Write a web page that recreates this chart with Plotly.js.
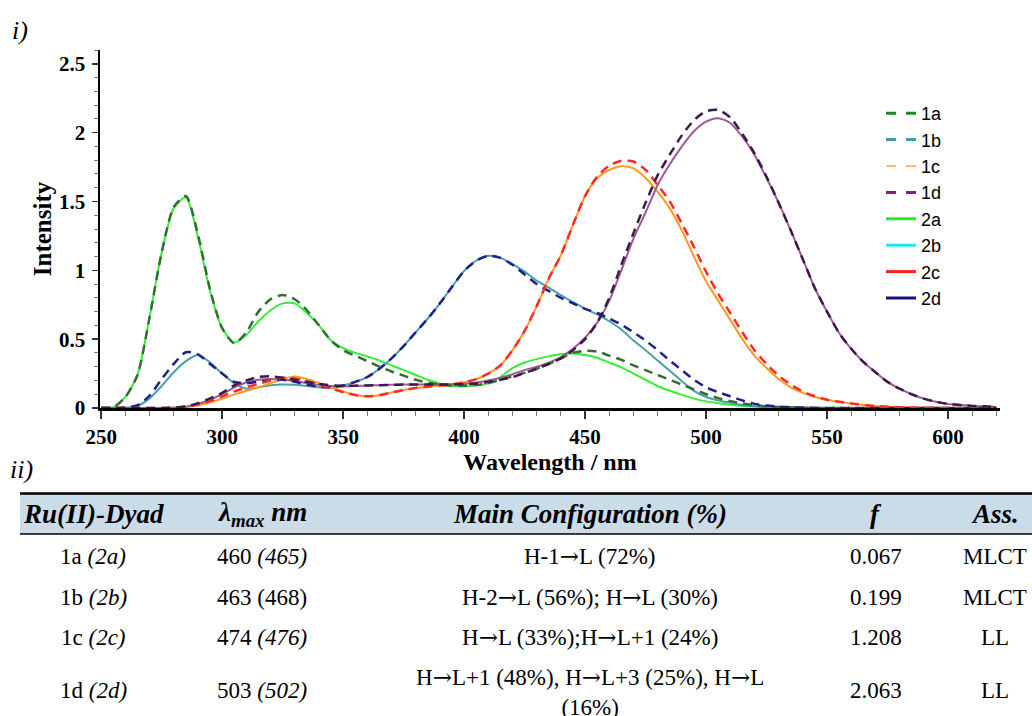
<!DOCTYPE html>
<html><head><meta charset="utf-8">
<script src="https://cdn.plot.ly/plotly-3.0.1.min.js"></script>
<style>html,body{margin:0;padding:0;background:#fff;}#chart{width:1032px;height:716px;}</style>
</head><body><div id="chart"></div>
<script>
// ---------- spectra data (wavelength in nm, intensity) ----------
const wavelength = [250,255,260,265,270,275,280,285,290,295,
  300,305,310,315,320,325,330,335,340,345,
  350,355,360,365,370,375,380,385,390,395,
  400,405,410,415,420,425,430,435,440,445,
  450,455,460,465,470,475,480,485,490,495,
  500,505,510,515,520,525,530,535,540,545,
  550,555,560,565,570,575,580,585,590,595,
  600,605,610,615,620];

const int2a = [0,0.005,0.08,0.24,0.66,1.13,1.45,1.53,1.24,0.85,
  0.58,0.475,0.53,0.63,0.71,0.76,0.76,0.69,0.60,0.49,
  0.435,0.40,0.375,0.345,0.31,0.275,0.24,0.205,0.177,0.162,
  0.157,0.163,0.18,0.225,0.29,0.33,0.355,0.375,0.39,0.395,
  0.385,0.365,0.33,0.295,0.25,0.205,0.16,0.125,0.095,0.068,
  0.048,0.035,0.024,0.015,0.01,0.006,0.004,0.002,0.001,0,
  0,0,0,0,0,0,0,0,0,0,
  0,0,0,0,0];
const int1a = [0,0.005,0.08,0.24,0.66,1.13,1.46,1.54,1.26,0.86,
  0.58,0.47,0.55,0.70,0.79,0.82,0.79,0.71,0.60,0.49,
  0.42,0.38,0.34,0.30,0.265,0.235,0.205,0.185,0.17,0.163,
  0.163,0.168,0.18,0.205,0.23,0.255,0.285,0.32,0.36,0.40,
  0.415,0.41,0.38,0.35,0.31,0.275,0.24,0.205,0.17,0.135,
  0.10,0.072,0.05,0.033,0.02,0.012,0.007,0.004,0.002,0.001,
  0,0,0,0,0,0,0,0,0,0,
  0,0,0,0,0];
const int2b = [0,0,0.002,0.015,0.07,0.16,0.26,0.34,0.385,0.33,
  0.25,0.18,0.14,0.15,0.165,0.17,0.168,0.16,0.15,0.148,
  0.163,0.19,0.225,0.285,0.36,0.45,0.55,0.65,0.76,0.88,
  0.995,1.07,1.105,1.09,1.045,0.99,0.925,0.875,0.82,0.77,
  0.72,0.68,0.63,0.57,0.49,0.42,0.345,0.27,0.195,0.125,
  0.08,0.055,0.038,0.022,0.013,0.008,0.004,0.002,0.001,0,
  0,0,0,0,0,0,0,0,0,0,
  0,0,0,0,0];
const int1b = [0,0,0.003,0.02,0.09,0.21,0.32,0.405,0.39,0.32,
  0.25,0.19,0.18,0.19,0.20,0.205,0.19,0.17,0.155,0.15,
  0.163,0.19,0.225,0.285,0.36,0.45,0.55,0.65,0.76,0.88,
  0.995,1.07,1.105,1.09,1.04,0.97,0.90,0.85,0.80,0.76,
  0.72,0.69,0.65,0.605,0.55,0.49,0.42,0.345,0.275,0.205,
  0.15,0.115,0.085,0.055,0.03,0.018,0.01,0.006,0.003,0.001,
  0,0,0,0,0,0,0,0,0,0,
  0,0,0,0,0];
const int2c = [0,0,0,0,0,0,0.002,0.008,0.02,0.04,
  0.068,0.097,0.125,0.15,0.18,0.21,0.228,0.21,0.18,0.15,
  0.12,0.095,0.085,0.093,0.113,0.13,0.145,0.155,0.163,0.172,
  0.187,0.21,0.25,0.31,0.42,0.56,0.74,0.94,1.11,1.33,
  1.54,1.67,1.73,1.755,1.74,1.67,1.57,1.45,1.29,1.10,
  0.92,0.78,0.64,0.50,0.38,0.29,0.21,0.15,0.11,0.08,
  0.06,0.045,0.032,0.022,0.014,0.009,0.005,0.003,0.002,0.001,
  0,0,0,0,0];
const int1c = [0,0,0,0,0,0,0.003,0.01,0.025,0.05,
  0.085,0.12,0.15,0.175,0.20,0.22,0.215,0.195,0.17,0.14,
  0.115,0.095,0.085,0.093,0.113,0.13,0.145,0.155,0.163,0.172,
  0.187,0.21,0.25,0.31,0.42,0.56,0.74,0.94,1.11,1.33,
  1.54,1.68,1.76,1.795,1.79,1.73,1.62,1.50,1.34,1.17,
  0.99,0.83,0.69,0.55,0.42,0.32,0.235,0.17,0.12,0.085,
  0.06,0.045,0.033,0.022,0.014,0.009,0.005,0.003,0.002,0.001,
  0,0,0,0,0];
const int2d = [0,0,0,0,0,0,0.002,0.01,0.03,0.06,
  0.10,0.15,0.185,0.205,0.21,0.205,0.195,0.18,0.168,0.16,
  0.157,0.16,0.163,0.166,0.168,0.17,0.17,0.17,0.171,0.173,
  0.177,0.185,0.20,0.22,0.245,0.275,0.30,0.33,0.37,0.43,
  0.51,0.62,0.78,1.00,1.23,1.42,1.62,1.77,1.90,2.01,
  2.08,2.105,2.07,1.97,1.84,1.67,1.49,1.29,1.08,0.87,
  0.70,0.545,0.43,0.335,0.26,0.19,0.14,0.10,0.068,0.045,
  0.03,0.022,0.015,0.012,0.008];
const int1d = [0,0,0,0,0,0,0.003,0.012,0.035,0.07,
  0.11,0.165,0.20,0.225,0.23,0.22,0.205,0.19,0.175,0.165,
  0.16,0.162,0.164,0.166,0.168,0.17,0.17,0.17,0.17,0.171,
  0.173,0.178,0.19,0.205,0.225,0.255,0.285,0.32,0.36,0.42,
  0.50,0.62,0.80,1.04,1.27,1.49,1.69,1.84,1.98,2.09,
  2.155,2.165,2.11,1.99,1.85,1.68,1.49,1.29,1.08,0.87,
  0.70,0.545,0.43,0.335,0.26,0.19,0.14,0.10,0.068,0.045,
  0.03,0.022,0.015,0.012,0.008];

// legend labels
const legendNames = ['1a','1b','1c','1d','2a','2b','2c','2d'];
const xTickVals = [250,300,350,400,450,500,550,600];

// ---------- table data ----------
const headerCells = ['<b><i>Ru(II)-Dyad</i></b>', '<b><i>λ<sub>max</sub> nm</i></b>',
  '<b><i>Main Configuration (%)</i></b>', '<b><i>f</i></b>', '<b><i>Ass.</i></b>'];
const dyad = ['1a','1b','1c','1d'];
const dyadRef = ['2a','2b','2c','2d'];
const lambda1 = ['460','463','474','503'];
const lambda2 = ['465','468','476','502'];
const lambda2Italic = [true,false,true,true];
const configuration = ['H-1→L (72%)', 'H-2→L (56%); H→L (30%)', 'H→L (33%);H→L+1 (24%)',
  'H→L+1 (48%), H→L+3 (25%), H→L<br>(16%)'];
const oscStrength = ['0.067','0.199','1.208','2.063'];
const assignment = ['MLCT','MLCT','LL','LL'];

[int2a,int1a,int2b,int1b,int2c,int1c,int2d,int1d].forEach((a,i)=>{
  if (a.length !== wavelength.length) throw new Error('length mismatch series '+i+': '+a.length);
});

// ---------- layout helpers ----------
const W = 1032, H = 716;
const px = v => v / W;
const py = v => 1 - v / H;
const SERIF = "'Liberation Serif', 'Times New Roman', Times, serif";
const SANS = "'Liberation Sans', Arial, sans-serif";
const arrow = s => s.split('→').join('<span style="font-family:\'DejaVu Serif\'">→</span>');

const DASH = '9px,6px';
function curve(y, color, dash, width) {
  return {x: wavelength, y: y, type: 'scatter', mode: 'lines', showlegend: false, hoverinfo: 'skip',
    line: {color: color, width: width, dash: dash, shape: 'spline', smoothing: 0.7}};
}
const traces = [
  curve(int2a, '#33ee33', 'solid', 2),
  curve(int2b, '#4aa0a6', 'solid', 2),
  curve(int2c, '#ff9a20', 'solid', 2),
  curve(int2d, '#9c5a92', 'solid', 2),
  curve(int1a, '#356e35', DASH, 2.5),
  curve(int1b, '#20208a', DASH, 2.5),
  curve(int1c, '#ff2a2a', DASH, 2.5),
  curve(int1d, '#3c1a4a', DASH, 2.5)
];
const legendStyles = [
  {color:'#1e8a1e', dash:'10px,10px', width:3},
  {color:'#3f9ea3', dash:'10px,10px', width:3},
  {color:'#ffa53a', dash:'10px,10px', width:1.5},
  {color:'#8a1a8a', dash:'10px,10px', width:3},
  {color:'#22ee22', dash:'solid', width:3},
  {color:'#22e5f5', dash:'solid', width:3},
  {color:'#ff2222', dash:'solid', width:3},
  {color:'#14147f', dash:'solid', width:3}
];
legendNames.forEach((n,i)=>{
  traces.push({x:[null], y:[null], type:'scatter', mode:'lines', name:n, showlegend:true,
    hoverinfo:'skip', line: legendStyles[i]});
});

// ---------- annotations (labels + table text) ----------
const ann = [];
function txt(x, y, text, size, opts) {
  ann.push(Object.assign({xref:'paper', yref:'paper', x:px(x), y:py(y), text:text, showarrow:false,
    xanchor:'center', yanchor:'middle', font:{family:SERIF, size:size, color:'#000'}}, opts||{}));
}
txt(10, 30, '<i>i)</i>', 26, {xanchor:'left'});
txt(8, 470, '<i>ii)</i>', 26, {xanchor:'left'});

const colX = [93, 262, 590, 876, 995];
headerCells.forEach((h,i)=> txt(colX[i], 514, h, 27));
const rowY = [556, 597, 637, 690];
dyad.forEach((d,i)=>{
  txt(colX[0], rowY[i], d + ' <i>(' + dyadRef[i] + ')</i>', 23);
  const l2 = lambda2Italic[i] ? '<i>(' + lambda2[i] + ')</i>' : '(' + lambda2[i] + ')';
  txt(colX[1], rowY[i], lambda1[i] + ' ' + l2, 23);
  txt(colX[2], i === 3 ? 692 : rowY[i], arrow(configuration[i]), 23);
  txt(colX[3], rowY[i], oscStrength[i], 23);
  txt(colX[4], rowY[i], assignment[i], 23);
});

const shapes = [
  {type:'rect', xref:'paper', yref:'paper', x0:px(20), x1:1, y0:py(534), y1:py(493),
   fillcolor:'#cbdce9', line:{width:0}, layer:'below'},
  {type:'line', xref:'paper', yref:'paper', x0:px(20), x1:1, y0:py(493.5), y1:py(493.5),
   line:{color:'#000', width:2.5}},
  {type:'line', xref:'paper', yref:'paper', x0:px(20), x1:1, y0:py(534), y1:py(534),
   line:{color:'#000', width:1.5}}
];

const layout = {
  width: W, height: H,
  margin: {l:0, r:0, t:0, b:0},
  paper_bgcolor: '#fff', plot_bgcolor: '#fff',
  showlegend: true,
  legend: {x: px(881), y: py(95), xanchor:'left', yanchor:'top', bgcolor:'rgba(0,0,0,0)',
    font:{family:SANS, size:18, color:'#000'}, tracegroupgap:0, itemclick:false},
  xaxis: {domain:[px(100), px(1000)], range:[249.5, 621.5], showgrid:false, zeroline:false,
    showline:true, linecolor:'#000', linewidth:2.5, ticks:'outside', ticklen:8, tickwidth:1.5,
    tickcolor:'#333', tickvals:xTickVals, ticklabelstandoff:0,
    minor:{dtick:10, tick0:250, ticks:'outside', ticklen:5, tickcolor:'#777', tickwidth:1},
    tickfont:{family:SERIF, size:21, color:'#000', weight:'bold'},
    title:{text:'<b>Wavelength / nm</b>', font:{family:SERIF, size:24, color:'#000'}, standoff:4},
    automargin:false},
  yaxis: {domain:[py(408), py(50)], range:[0, 2.6], showgrid:false, zeroline:false,
    showline:true, linecolor:'#000', linewidth:2.5, ticks:'outside', ticklen:6, tickwidth:1.5,
    tickcolor:'#333', tick0:0, dtick:0.5, ticklabelstandoff:2,
    minor:{dtick:0.1, ticks:'outside', ticklen:4, tickcolor:'#777', tickwidth:1},
    tickfont:{family:SERIF, size:21, color:'#000', weight:'bold'},
    title:{text:'<b>Intensity</b>', font:{family:SERIF, size:25, color:'#000'}, standoff:1},
    automargin:false},
  annotations: ann,
  shapes: shapes
};

Plotly.newPlot('chart', traces, layout, {displayModeBar:false, staticPlot:true});
</script>
</body></html>
